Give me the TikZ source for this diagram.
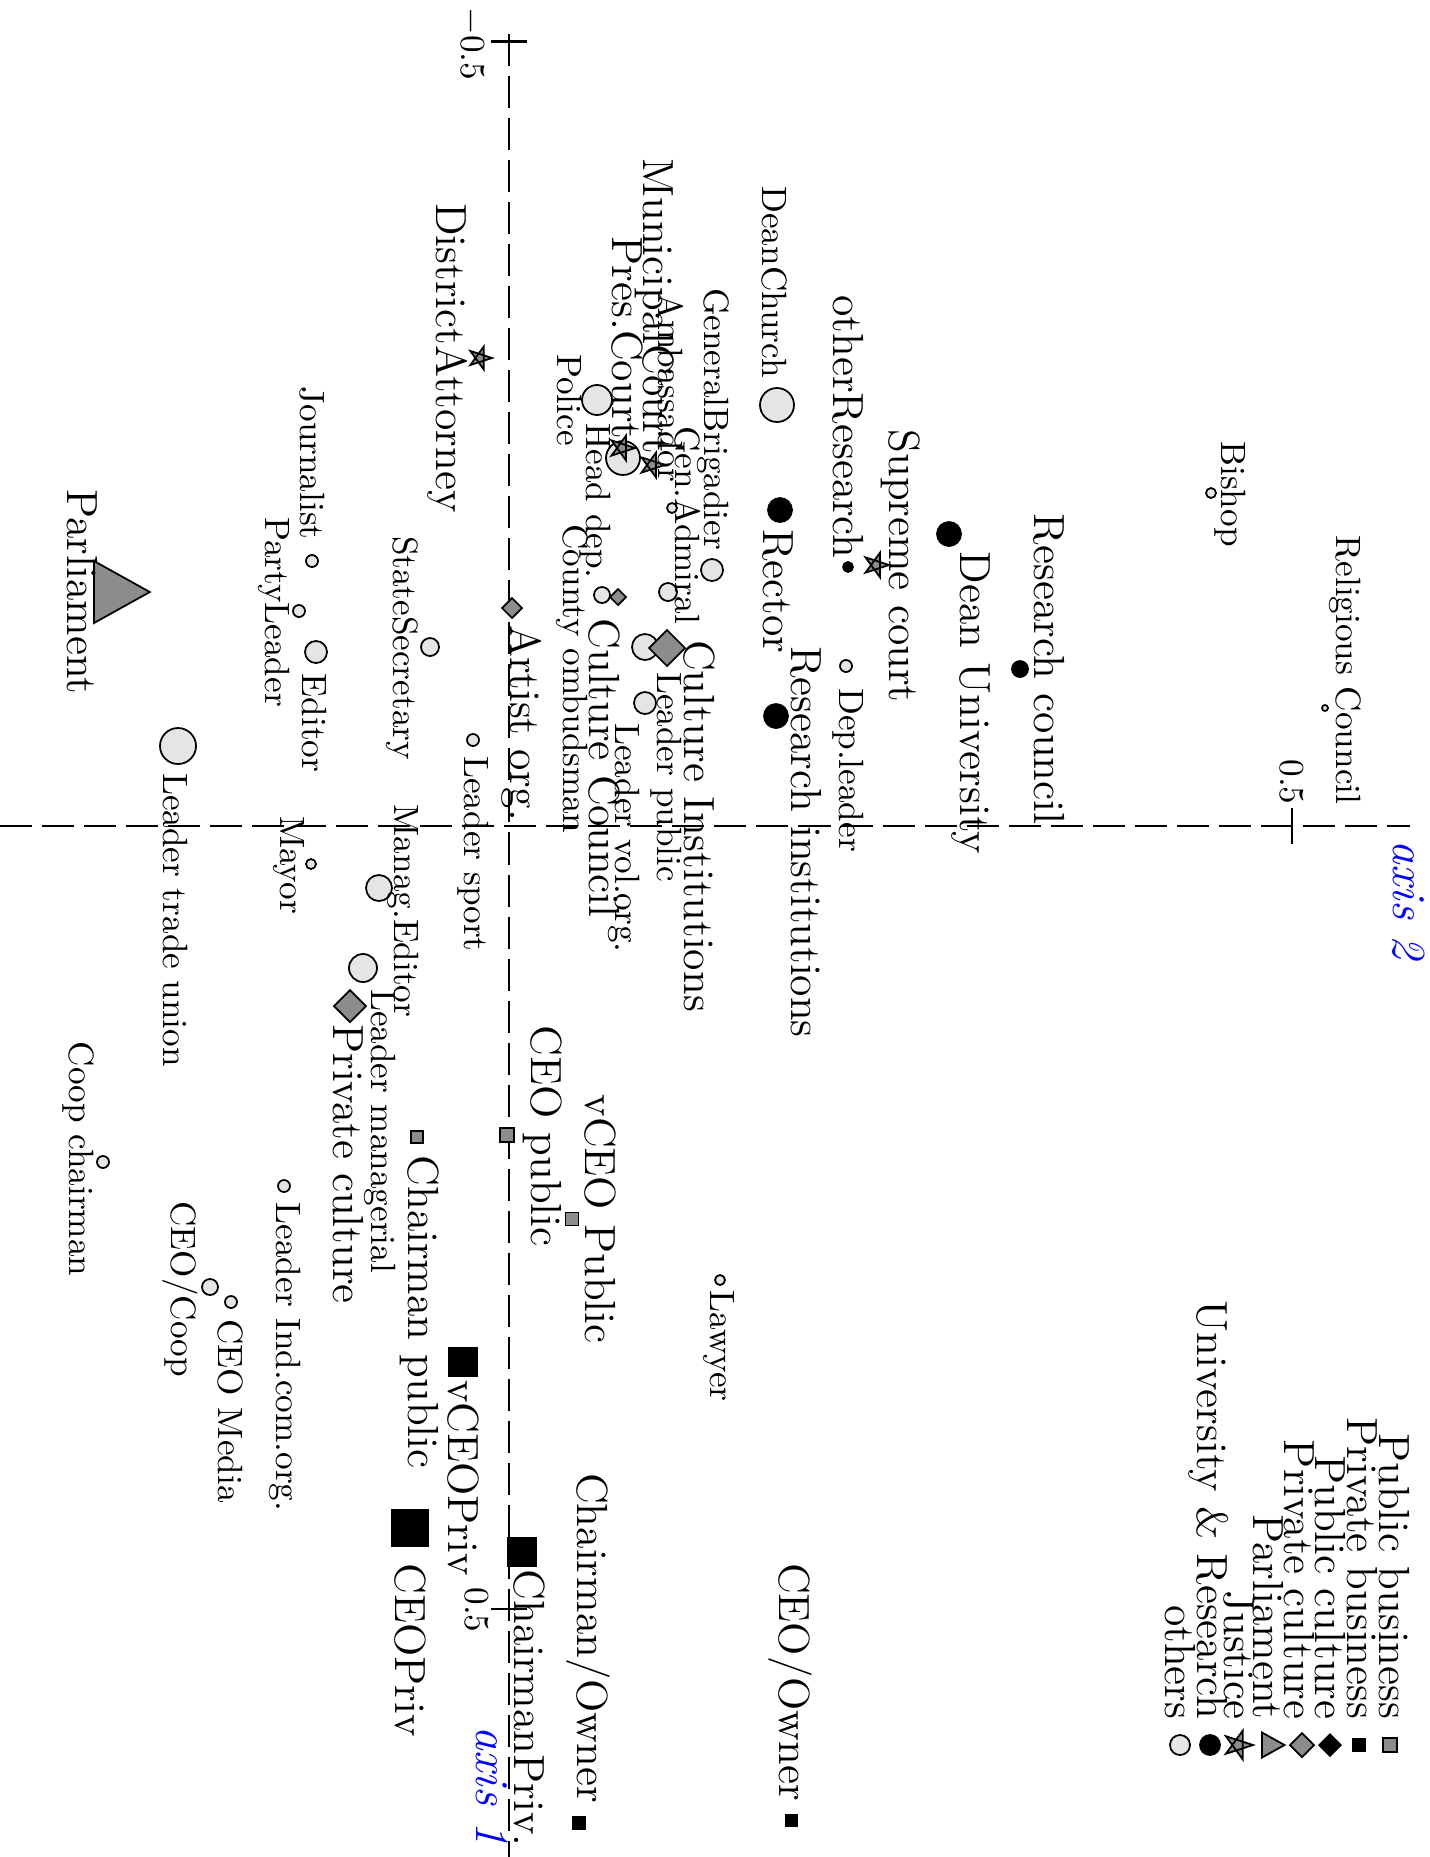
\documentclass[tikz,border=0pt]{standalone}
\usepackage{xcolor}
\definecolor{gmark}{gray}{0.55}
\definecolor{lmark}{gray}{0.9}
\begin{document}
\begin{tikzpicture}[x=0.01cm,y=-0.01cm,
  lab/.style={rotate=-90,inner sep=0pt},
  bigl/.style={font=\fontsize{12.4}{14}\selectfont},
  med/.style={font=\fontsize{10}{12}\selectfont},
  axlab/.style={font=\fontsize{13.5}{15}\selectfont\itshape,text=blue},
  axl/.style={line width=0.6pt,dash pattern=on 0.32cm off 0.1cm},
  tk/.style={line width=0.6pt},
  mk/.style={line width=0.5pt,draw=black},
  oth/.pic={\draw[mk,fill=lmark] (0,0) circle[radius=#1];},
  uni/.pic={\draw[mk,fill=black] (0,0) circle[radius=#1];},
  jus/.pic={\draw[mk,fill=gmark,line join=miter] (0:#1) -- (144:#1) -- (288:#1) -- (72:#1) -- (216:#1) -- cycle;},
  dia/.pic={\draw[mk,fill=gmark] (#1,0) -- (0,#1) -- (-#1,0) -- (0,-#1) -- cycle;},
  bdia/.pic={\fill[black] (#1,0) -- (0,#1) -- (-#1,0) -- (0,-#1) -- cycle;},
  tri/.pic={\draw[mk,fill=gmark] ({-0.6*#1},{-#1}) -- ({-0.6*#1},{#1}) -- ({1.2*#1},0) -- cycle;},
  gsq/.pic={\draw[mk,fill=gmark] ({-#1/2},{-#1/2}) rectangle ({#1/2},{#1/2});},
  bsq/.pic={\fill[black] ({-#1/2},{-#1/2}) rectangle ({#1/2},{#1/2});}
]
\fill[white] (0,0) rectangle (1430,1857);
\useasboundingbox (0,0) rectangle (1430,1857);

% axes
\coordinate (a1s) at (509,34); \coordinate (a1e) at (509,1857);
\coordinate (a2s) at (0,826); \coordinate (a2e) at (1410,826);
\draw[axl] (a1s) -- (a1e);
\draw[axl] (a2s) -- (a2e);
\draw[tk] (491,41.5) -- (527,41.5);
\draw[tk] (509,34) -- (509,51);
\draw[tk] (491,1609) -- (527,1609);
\draw[tk] (1292,808) -- (1292,844);
\node[lab,med] (tk1) at (472,44) {$-$0.5};
\node[lab,med] (tk2) at (477,1610) {0.5};
\node[lab,med] (tk3) at (1292,782) {0.5};
\node[lab,axlab] (ax2) at (1409,900) {axis 2};
\node[lab,axlab] (ax1) at (492,1786) {axis 1};

% markers: others
\pic (m1) at (1211,493) {oth=5};
\pic (m2) at (1325,708) {oth=3};
\pic (m3) at (777,405) {oth=17};
\pic (m4) at (712,570) {oth=11};
\pic (m5) at (668,592) {oth=9};
\pic (m6) at (672,508) {oth=5};
\pic (m7) at (597,400) {oth=15};
\pic (m8) at (623,458) {oth=17};
\pic (m9) at (602,595) {oth=8};
\pic (m10) at (645,647) {oth=13};
\pic (m11) at (645,703) {oth=11};
\pic (m12) at (846,666) {oth=6};
\pic (m13) at (473,740) {oth=6};
\pic (m14) at (430,647) {oth=9};
\pic (m15) at (312,561) {oth=6};
\pic (m16) at (299,611) {oth=6};
\pic (m17) at (316,652) {oth=11};
\pic (m18) at (311,864) {oth=5};
\pic (m19) at (379,888) {oth=13};
\pic (m20) at (363,968) {oth=14};
\pic (m21) at (178,746) {oth=18};
\pic (m22) at (103,1162) {oth=6};
\pic (m23) at (284,1186) {oth=6};
\pic (m24) at (210,1287) {oth=8};
\pic (m25) at (231,1302) {oth=6};
\pic (m26) at (720,1280) {oth=5};
% university & research
\pic (u1) at (848,567) {uni=5};
\pic (u2) at (949,534) {uni=12};
\pic (u3) at (1020,669) {uni=8};
\pic (u4) at (780,510) {uni=12};
\pic (u5) at (776,716) {uni=12};
% justice
\pic (j1) at (480,358) {jus=12};
\pic (j2) at (652,465) {jus=13};
\pic (j3) at (622,448) {jus=13};
\pic (j4) at (876,565) {jus=13};
% private culture
\pic (d1) at (667,648) {dia=18};
\pic (d2) at (618,597) {dia=8};
\pic (d3) at (512,608) {dia=10};
\pic (d4) at (350,1006) {dia=16};
% parliament
\pic (p1) at (112.6,592) {tri=31};
% public business
\pic (s1) at (417,1137) {gsq=12};
\pic (s2) at (507,1135) {gsq=14};
\pic (s3) at (572,1219) {gsq=13};
% private business
\pic (b1) at (463,1362) {bsq=30};
\pic (b2) at (410,1528) {bsq=38};
\pic (b3) at (522,1552) {bsq=30};
\pic (b4) at (579,1823) {bsq=14};
\pic (b5) at (791,1820) {bsq=13};

% large labels
\node[lab,bigl] (t1) at (82,592) {Parliament};
\node[lab,bigl] (t2) at (448,358) {DistrictAttorney};
\node[lab,bigl] (t3) at (655,306) {MunicipalCourt};
\node[lab,bigl] (t4) at (627,338) {Pres.Court};
\node[lab,bigl] (t5) at (848,427) {otherResearch};
\node[lab,bigl] (t6) at (901,566) {Supreme court};
\node[lab,bigl] (t7) at (971,703) {Dean University};
\node[lab,bigl] (t8) at (1049,669) {Research council};
\node[lab,bigl] (t9) at (778,591) {Rector};
\node[lab,bigl] (t10) at (806,842) {Research institutions};
\node[lab,bigl] (t11) at (699,826) {Culture Institutions};
\node[lab,bigl] (t12) at (604,768) {Culture Council};
\node[lab,bigl] (t13) at (522,723) {Artist org.};
\node[lab,bigl] (t14) at (543,1136) {CEO public};
\node[lab,bigl] (t15) at (600,1219) {vCEO Public};
\node[lab,bigl] (t16) at (420,1312) {Chairman public};
\node[lab,bigl] (t17) at (348,1164) {Private culture};
\node[lab,bigl] (t18) at (463,1478) {vCEOPriv};
\node[lab,bigl] (t19) at (410,1650) {CEOPriv};
\node[lab,bigl] (t20) at (529,1708) {ChairmanPriv.};
\node[lab,bigl] (t21) at (588,1638) {Chairman/Owner};
\node[lab,bigl] (t22) at (790,1682) {CEO/Owner};

% medium labels
\node[lab,med] (n1) at (775,282) {DeanChurch};
\node[lab,med] (n2) at (713,419) {GeneralBrigadier};
\node[lab,med] (n3) at (688,525) {Gen.Admiral};
\node[lab,med] (n4) at (671,388) {Ambassador};
\node[lab,med] (n5) at (570,400) {Police};
\node[lab,med] (n6) at (595,501) {Head dep.};
\node[lab,med] (n7) at (572,679) {County ombudsman};
\node[lab,med] (n8) at (666,777) {Leader public};
\node[lab,med] (n9) at (624,838) {Leader vol.org.};
\node[lab,med] (n10) at (473,854) {Leader sport};
\node[lab,med] (n11) at (402,648) {StateSecretary};
\node[lab,med] (n12) at (312,463) {Journalist};
\node[lab,med] (n13) at (274,612) {PartyLeader};
\node[lab,med] (n14) at (315,723) {Editor};
\node[lab,med] (n15) at (289,865) {Mayor};
\node[lab,med] (n16) at (403,911) {Manag.Editor};
\node[lab,med] (n17) at (176,920) {Leader trade union};
\node[lab,med] (n18) at (380,1131) {Leader managerial};
\node[lab,med] (n19) at (78,1159) {Coop chairman};
\node[lab,med] (n20) at (285,1357) {Leader Ind.com.org.};
\node[lab,med] (n21) at (180,1289) {CEO/Coop};
\node[lab,med] (n22) at (231,1411) {CEO Media};
\node[lab,med] (n23) at (719,1346) {Lawyer};
\node[lab,med] (n24) at (848,770) {Dep.leader};
\node[lab,med] (n25) at (1230,494) {Bishop};
\node[lab,med] (n26) at (1345,670) {Religious Council};

% legend
\node[lab,bigl,anchor=east] (g1) at (1394,1720) {Public business};
\node[lab,bigl,anchor=east] (g2) at (1362,1720) {Private business};
\node[lab,bigl,anchor=east] (g3) at (1330,1720) {Public culture};
\node[lab,bigl,anchor=east] (g4) at (1299,1720) {Private culture};
\node[lab,bigl,anchor=east] (g5) at (1268,1720) {Parliament};
\node[lab,bigl,anchor=east] (g6) at (1239,1720) {Justice};
\node[lab,bigl,anchor=east] (g7) at (1209,1720) {University \& Research};
\node[lab,bigl,anchor=east] (g8) at (1180,1720) {others};
\pic (k1) at (1390,1745) {gsq=14};
\pic (k2) at (1359,1745) {bsq=14};
\pic (k3) at (1330,1745) {bdia=12};
\pic (k4) at (1302,1745) {dia=12};
\pic (k5) at (1269.5,1745) {tri=12.5};
\pic (k6) at (1238,1745) {jus=15};
\pic (k7) at (1210,1745) {uni=10};
\pic (k8) at (1180,1745) {oth=10};
\end{tikzpicture}
\end{document}
